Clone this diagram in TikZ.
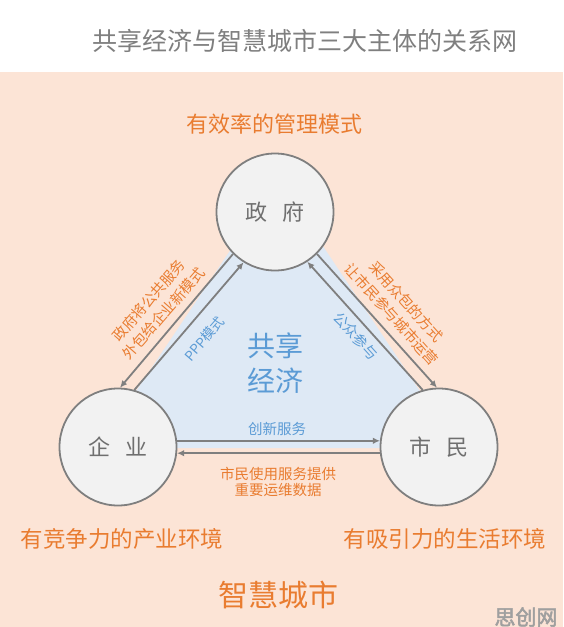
\documentclass[tikz,border=0pt]{standalone}
\usepackage{fontspec}
\setmainfont{Noto Sans CJK SC}
\newfontfamily\markfont[FakeBold=2.5]{Noto Sans CJK SC}
\usetikzlibrary{positioning,arrows.meta}
\definecolor{peachbg}{HTML}{FCE4D6}
\definecolor{sharefill}{HTML}{DEE9F5}
\definecolor{linegray}{HTML}{7F7F7F}
\definecolor{circfill}{HTML}{F2F2F2}
\definecolor{circtext}{HTML}{6F6F6F}
\definecolor{orangetxt}{HTML}{E97C30}
\definecolor{bluetxt}{HTML}{5B9BD5}
\definecolor{titlegray}{HTML}{7F7F7F}

\begin{document}
\begin{tikzpicture}[
  x=1pt, y=-1pt,
  actor/.style={
    circle,
    line width=1.8pt,
    draw=linegray,
    fill=circfill,
    text=circtext,
    inner sep=0pt,
    minimum size=117pt,
    font=\fontsize{22}{26}\selectfont
  },
  link/.style={
    line width=1.8pt,
    draw=linegray,
    -{Latex[length=7pt,width=6.5pt]}
  },
  orangenote/.style={
    text=orangetxt,
    align=center,
    font=\fontsize{14.5}{19.5}\selectfont
  },
  bluenote/.style={
    text=bluetxt,
    font=\fontsize{14.5}{19.5}\selectfont
  },
  goal/.style={
    text=orangetxt,
    font=\fontsize{22.5}{26}\selectfont
  }]
  % background
  \fill[white] (0,0) rectangle (563,72);
  \fill[peachbg] (0,72) rectangle (563,627);
  \useasboundingbox (0,0) rectangle (563,627);
  % shared economy area
  \fill[sharefill] (98,448) -- (458,448) -- (278,179) -- cycle;

  \node[actor] (gov) at (275,212) {政\hspace{0.7em}府};
  \node[actor] (ent) at (118,447) {企\hspace{0.7em}业};
  \node[actor] (cit) at (439,447) {市\hspace{0.7em}民};

  \draw[link] (gov.225) -- (ent.88);
  \draw[link] (ent.74) -- (gov.238);
  \draw[link] (gov.315) -- (cit.92);
  \draw[link] (cit.106) -- (gov.303);
  \draw[link] (ent.6) -- (cit.174);
  \draw[link] (cit.186) -- (ent.-6);

  \node[text=titlegray, font=\fontsize{25}{30}\selectfont] (title) at (305,41) {共享经济与智慧城市三大主体的关系网};
  \node[goal, font=\fontsize{22}{26}\selectfont] (govgoal) at (274.5,124) {有效率的管理模式};
  \node[goal] (entgoal) at (122,539) {有竞争力的产业环境};
  \node[goal] (citgoal) at (445,539) {有吸引力的生活环境};
  \node[goal, font=\fontsize{30}{36}\selectfont] (city) at (278,595) {智慧城市};
  \node[text=bluetxt, align=center, font=\fontsize{28}{35}\selectfont] (share) at (275,363) {共享\\经济};

  \node[orangenote, rotate=49] (outsrc) at (156,307) {政府将公共服务\\外包给企业新模式};
  \node[bluenote, font=\fontsize{13.5}{16}\selectfont, rotate=49] (ppp) at (204.5,339) {PPP模式};
  \node[orangenote, rotate=-48] (crowd) at (399,308) {采用众包的方式\\让市民参与城市运营};
  \node[bluenote, rotate=-48] (public) at (356,336) {公众参与};
  \node[bluenote] (innov) at (277,429) {创新服务};
  \node[orangenote, font=\fontsize{14.5}{16}\selectfont] (data) at (278,482) {市民使用服务提供\\重要运维数据};

  \node[text=gray!75, font=\markfont\fontsize{21}{24}\selectfont] (mark) at (526,617) {思创网};
\end{tikzpicture}
\end{document}
